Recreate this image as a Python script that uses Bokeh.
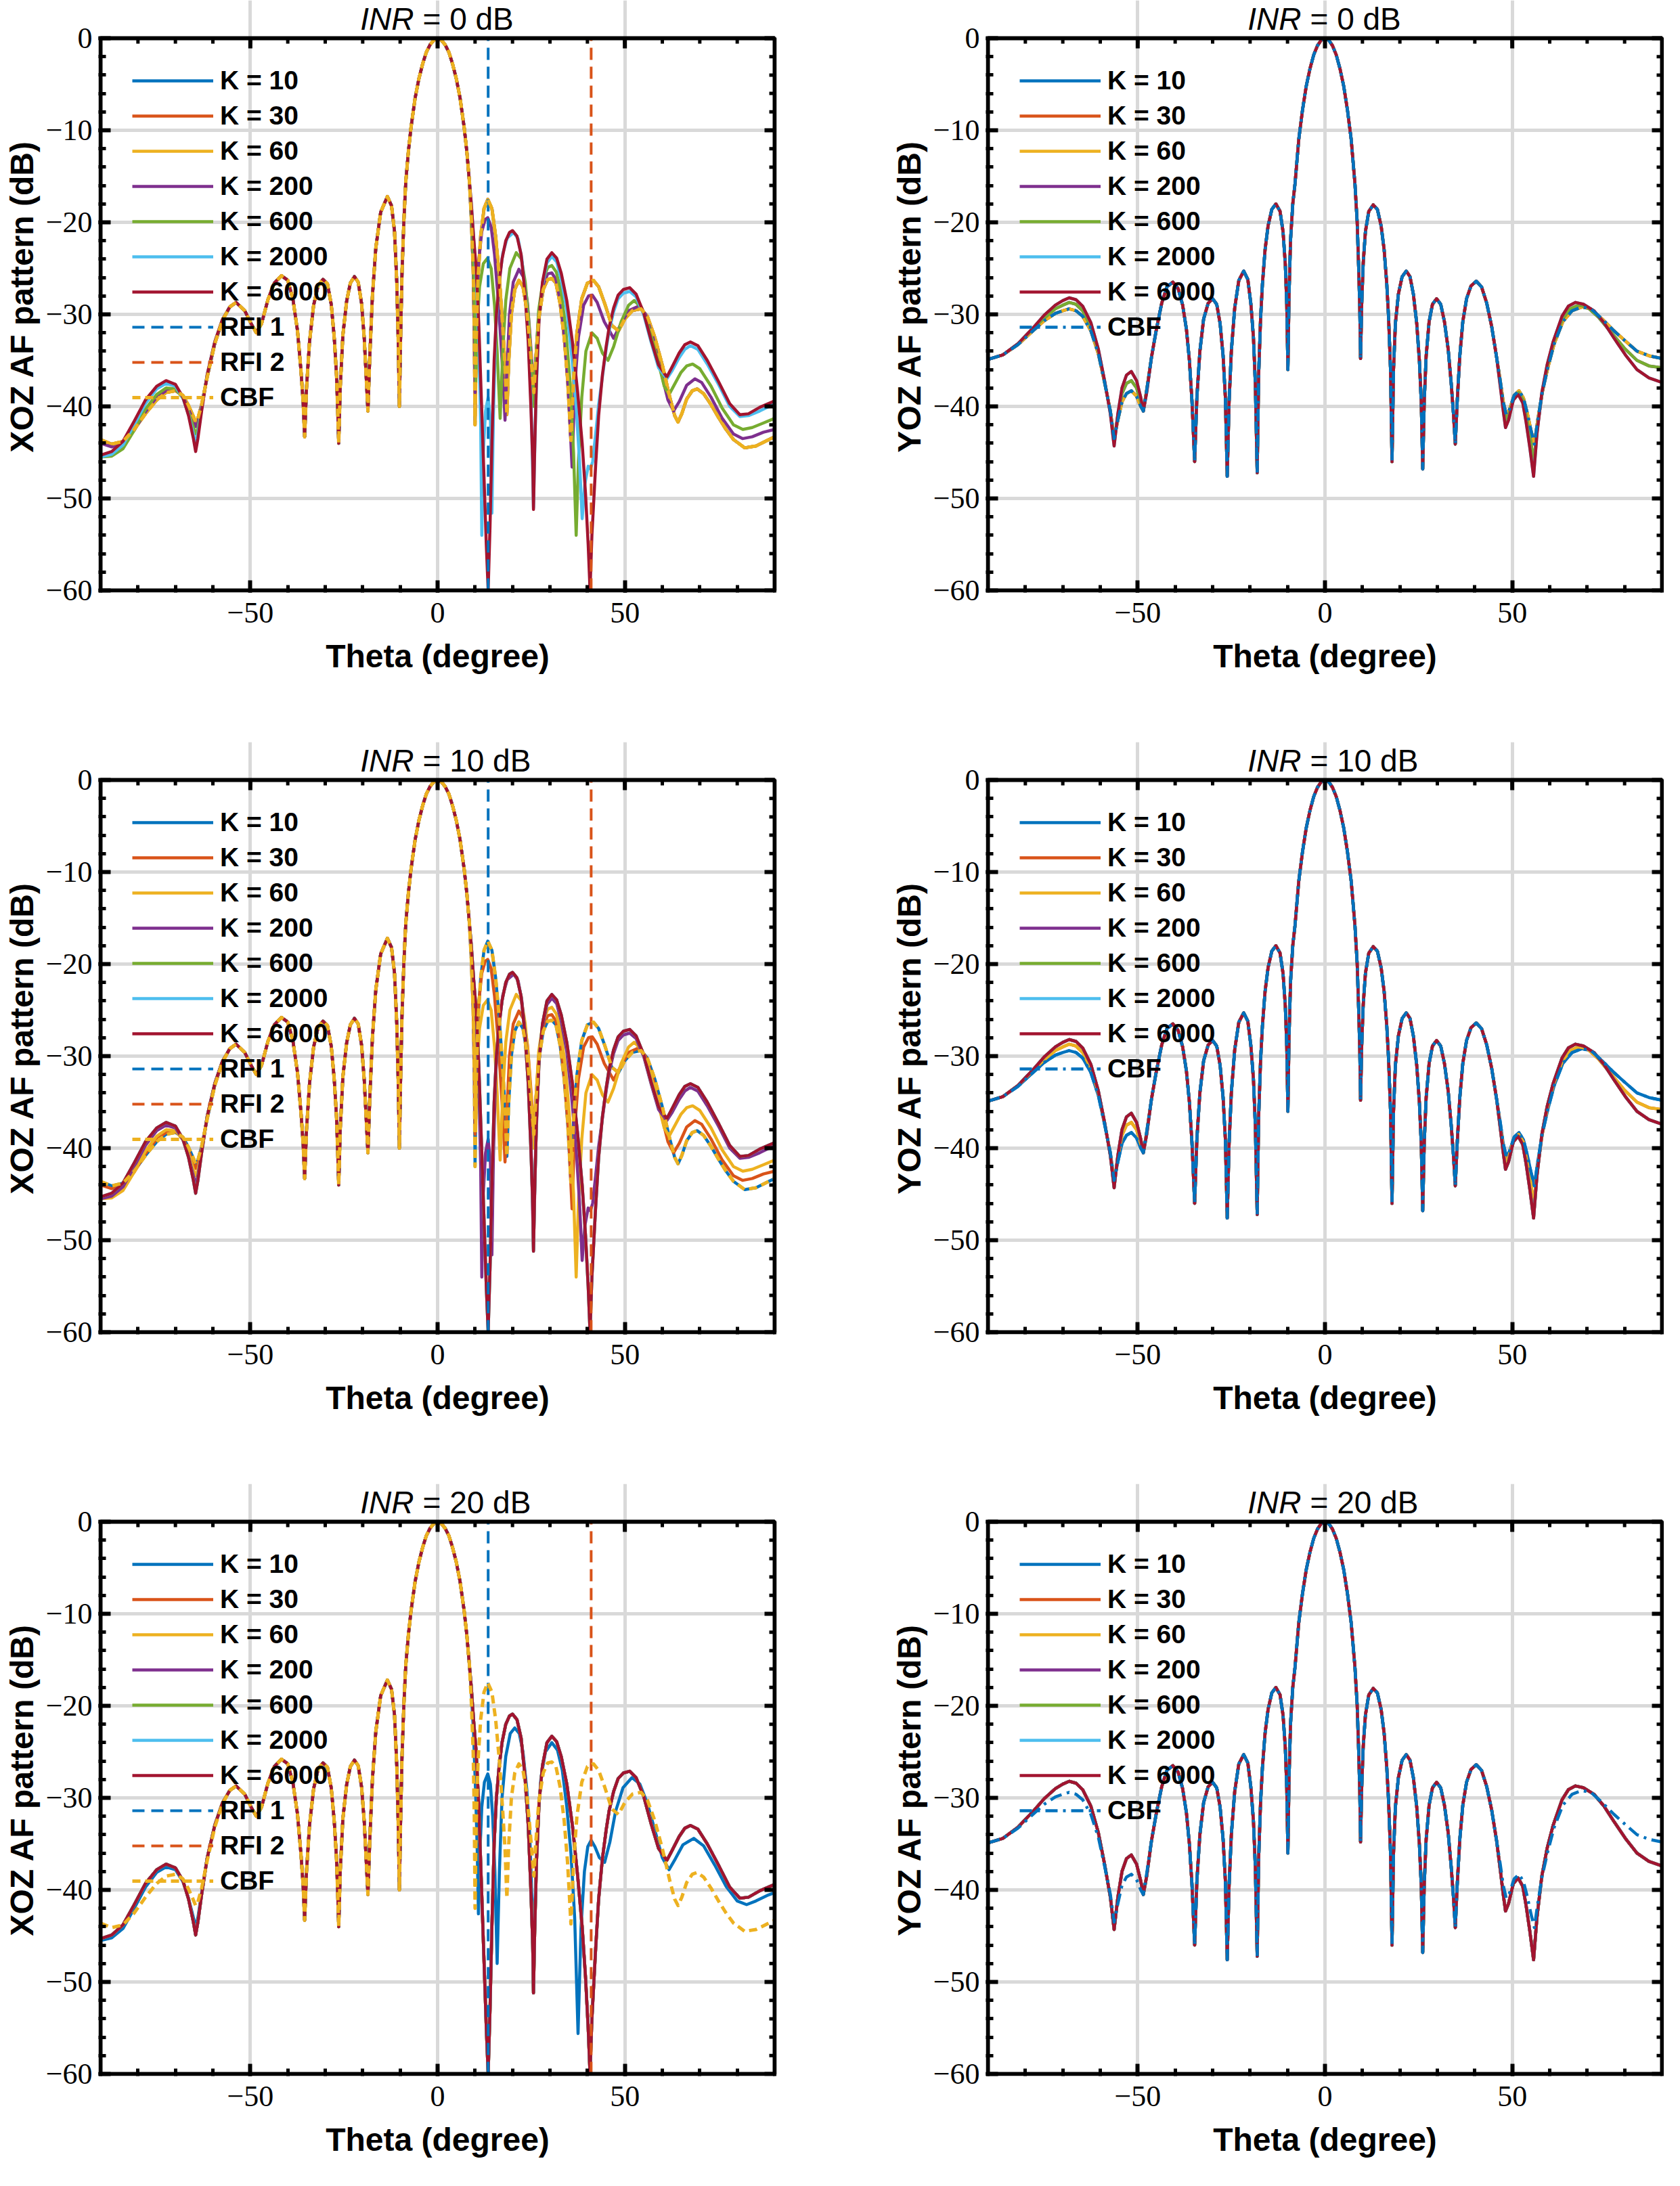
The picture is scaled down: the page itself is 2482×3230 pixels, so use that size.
from math import pi

from bokeh.embed import file_html
from bokeh.layouts import gridplot
from bokeh.models import FixedTicker, Label, Range1d
from bokeh.plotting import figure
from bokeh.resources import INLINE

# axes
x_lim = [-90, 90]
y_lim = [-60, 0]
x_ticks = [-50, 0, 50]
x_tick_labels = ["\u221250", "0", "50"]
x_minor = list(range(-90, 91, 10))
y_ticks = [-60, -50, -40, -30, -20, -10, 0]
y_tick_labels = ["\u221260", "\u221250", "\u221240", "\u221230", "\u221220", "\u221210", "0"]
y_minor = list(range(-60, 1, 2))

inr_values = ["0", "10", "20"]
k_labels = ["K = 10", "K = 30", "K = 60", "K = 200", "K = 600", "K = 2000", "K = 6000"]
k_colors = ["#0072BD", "#D95319", "#EDB120", "#7E2F8E", "#77AC30", "#4DBEEE", "#A2142F"]

# interference directions (degree)
rfi_theta = [13.5, 41.0]
rfi_labels = ["RFI 1", "RFI 2"]
rfi_colors = ["#0072BD", "#D95319"]

# ---------------- XOZ cut ----------------
# far left part (-90 .. -55.5), one row per curve shape
xoz_fl_theta = [-90, -87, -84, -81, -78, -75, -72.5, -70, -68, -66.5, -65.2, -64.6, -64, -63, -61.5, -59.5, -57.5, -55.5]
xoz_fl_a = [-43.6, -44.1, -43.8, -42.5, -40.8, -39.3, -38.5, -38.3, -38.8, -39.9, -41.1, -41.7, -41.3, -39.8, -36.8, -33.2, -30.7, -29.2]
xoz_fl_b = [-44.0, -44.4, -44.0, -42.6, -40.6, -39.0, -38.3, -38.2, -38.9, -40.3, -41.6, -42.2, -41.7, -39.9, -36.7, -33.2, -30.7, -29.2]
xoz_fl_c = [-45.5, -45.4, -44.6, -42.6, -40.3, -38.7, -38.0, -38.1, -39.1, -40.6, -42.3, -43.0, -42.4, -40.1, -36.6, -33.1, -30.7, -29.2]
xoz_fl_d = [-45.5, -45.2, -44.2, -42.0, -39.7, -38.1, -37.5, -37.8, -39.1, -40.9, -43.0, -44.0, -43.0, -40.3, -36.5, -33.0, -30.6, -29.2]
xoz_fl_e = [-45.3, -44.9, -43.8, -41.6, -39.3, -37.8, -37.2, -37.6, -39.0, -41.0, -43.5, -44.9, -43.5, -40.5, -36.5, -33.0, -30.6, -29.2]

# common part (-53.8 .. 7.8), (theta, dB)
xoz_core = [
    (-53.8, -28.7), (-51.5, -29.6), (-49.8, -31.0), (-48.4, -32.0), (-47.0, -31.0), (-45.3, -28.4),
    (-43.6, -26.6), (-41.7, -25.8), (-40.0, -26.3), (-38.6, -28.4), (-37.4, -31.8), (-36.5, -36.0),
    (-35.9, -39.5), (-35.5, -43.3), (-35.0, -38.0), (-34.2, -33.0), (-33.1, -29.0), (-31.9, -26.9),
    (-30.6, -26.2), (-29.4, -26.7), (-28.4, -28.9), (-27.6, -32.5), (-27.0, -36.5), (-26.7, -40.0),
    (-26.4, -44.0), (-26.0, -38.0), (-25.3, -32.3), (-24.3, -28.6), (-23.3, -26.6), (-22.2, -25.9),
    (-21.2, -26.5), (-20.3, -28.8), (-19.6, -32.5), (-19.1, -36.5), (-18.6, -40.5), (-18.1, -34.5),
    (-17.4, -28.0), (-16.5, -22.8), (-15.2, -18.9), (-13.4, -17.2), (-12.3, -18.2), (-11.5, -21.0),
    (-10.9, -26.5), (-10.5, -33.0), (-10.2, -40.0), (-9.9, -33.0), (-9.5, -25.5), (-9.0, -19.8),
    (-8.5, -15.6), (-7.8, -12.3), (-7.1, -9.7), (-6.0, -6.5), (-5.0, -4.4), (-4.0, -2.8),
    (-3.0, -1.5), (-2.0, -0.7), (-1.0, -0.2), (0.0, 0.0), (1.0, -0.2), (2.0, -0.7), (3.0, -1.5),
    (4.0, -2.8), (5.0, -4.4), (6.0, -6.5), (7.1, -9.7), (7.8, -12.3),
]

# right part (8.5 .. 90) for each curve shape
xoz_right_a = [
    (8.5, -15.6), (9.0, -19.5), (9.5, -25.0), (9.8, -32.0), (10.0, -42.0), (10.3, -33.0), (10.8, -26.0),
    (11.5, -21.5), (12.4, -18.5), (13.4, -17.5), (14.5, -18.5), (15.5, -21.5), (16.5, -26.0), (17.4, -31.5),
    (18.0, -35.5), (18.5, -40.9), (19.0, -35.0), (19.7, -30.0), (20.6, -27.3), (21.7, -26.3), (22.8, -27.0),
    (23.8, -29.5), (24.7, -33.5), (25.3, -36.5), (25.7, -38.5), (26.2, -35.0), (27.0, -30.5), (28.2, -27.3),
    (29.4, -26.2), (30.5, -26.1), (31.6, -26.6), (32.7, -28.8), (33.8, -32.5), (34.7, -37.0), (35.6, -43.7),
    (36.3, -37.0), (37.2, -32.0), (38.5, -28.3), (40.0, -26.6), (41.6, -26.3), (43.0, -27.0), (44.6, -28.8),
    (46.5, -31.2), (48.3, -31.8), (50.0, -30.5), (52.0, -29.6), (54.3, -29.4), (56.0, -30.2), (58.0, -32.5),
    (60.0, -35.5), (62.0, -39.0), (63.3, -41.0), (64.2, -41.7), (65.2, -40.8), (66.5, -39.2), (68.0, -38.3),
    (69.3, -38.1), (71.0, -38.6), (73.0, -39.8), (75.0, -41.2), (77.0, -42.5), (79.0, -43.6), (82.0, -44.5),
    (85.0, -44.3), (88.0, -43.7), (90.0, -43.3),
]
xoz_right_b = [
    (8.5, -15.6), (9.0, -19.5), (9.5, -25.0), (9.8, -31.0), (10.0, -38.5), (10.3, -31.0), (10.9, -24.5),
    (11.8, -21.0), (12.7, -19.7), (13.4, -19.5), (14.3, -20.5), (15.2, -23.5), (16.1, -28.0), (16.9, -33.0),
    (17.5, -37.0), (18.0, -41.5), (18.5, -36.0), (19.2, -30.0), (20.2, -26.5), (21.7, -25.1), (23.0, -26.0),
    (24.0, -28.8), (24.8, -33.0), (25.4, -36.5), (25.7, -38.5), (26.2, -35.0), (27.0, -30.0), (28.2, -26.8),
    (29.4, -25.6), (30.5, -25.5), (31.6, -26.2), (32.8, -28.6), (33.9, -32.6), (34.9, -38.0), (35.9, -46.6),
    (36.6, -38.0), (37.6, -32.5), (39.0, -29.0), (40.3, -28.0), (41.3, -27.9), (42.6, -28.7), (44.5, -30.8),
    (47.0, -32.6), (49.0, -31.0), (51.0, -29.6), (53.7, -29.1), (55.5, -30.0), (57.5, -32.5), (59.5, -36.0),
    (61.5, -39.3), (63.0, -40.5), (64.5, -39.5), (66.5, -37.7), (68.7, -37.0), (70.5, -37.4), (73.0, -39.0),
    (76.0, -41.3), (79.0, -43.0), (81.4, -43.5), (84.0, -43.3), (87.0, -42.8), (90.0, -42.5),
]
xoz_right_c = [
    (8.5, -15.6), (9.0, -19.0), (9.5, -24.0), (9.9, -30.0), (10.2, -37.4), (10.6, -31.0), (11.2, -27.0),
    (12.2, -24.5), (13.3, -23.9), (14.3, -25.0), (15.2, -29.0), (15.9, -34.0), (16.7, -41.3), (17.4, -34.0),
    (18.2, -28.5), (19.3, -25.0), (21.0, -23.3), (22.4, -24.0), (23.4, -26.5), (24.3, -30.5), (25.0, -35.0),
    (25.6, -40.0), (26.2, -35.0), (27.0, -29.5), (28.2, -26.2), (29.4, -24.9), (30.5, -24.7), (31.7, -25.4),
    (33.0, -27.6), (34.2, -31.5), (35.3, -37.0), (36.3, -45.0), (37.0, -54.0), (37.6, -46.0), (38.5, -39.0),
    (39.6, -34.0), (41.2, -32.0), (42.6, -32.6), (44.0, -34.2), (45.5, -35.0), (47.0, -33.5), (49.0, -30.8),
    (51.0, -29.0), (52.5, -28.5), (54.5, -29.3), (56.5, -31.5), (58.5, -34.5), (60.5, -37.8), (61.8, -38.7),
    (63.0, -37.8), (65.0, -36.3), (66.5, -35.6), (68.1, -35.4), (70.0, -35.9), (73.0, -37.8), (76.0, -40.2),
    (79.0, -42.0), (81.5, -42.5), (84.0, -42.3), (87.0, -41.8), (90.0, -41.3),
]
xoz_right_d = [
    (8.5, -15.6), (9.0, -18.0), (9.6, -21.5), (10.3, -26.0), (11.0, -33.0), (11.5, -42.0), (11.8, -54.0),
    (12.2, -45.0), (12.8, -40.5), (13.5, -39.0), (14.1, -41.5), (14.5, -51.6), (14.9, -41.0), (15.5, -32.0),
    (16.4, -26.5), (17.4, -23.4), (18.6, -21.7), (20.3, -21.1), (21.5, -21.8), (22.5, -24.0), (23.5, -28.0),
    (24.3, -33.0), (25.0, -40.0), (25.6, -51.0), (26.2, -40.0), (27.0, -31.0), (28.0, -26.8), (29.2, -24.4),
    (30.5, -23.7), (31.8, -24.3), (33.0, -26.2), (34.5, -29.5), (35.8, -34.5), (37.0, -40.0), (37.9, -46.0),
    (38.6, -52.2), (39.3, -48.5), (40.2, -46.5), (40.8, -46.8), (41.4, -46.0), (42.2, -43.0), (43.0, -39.8),
    (44.0, -36.8), (45.0, -33.8), (45.8, -31.8), (47.0, -29.7), (48.2, -28.3), (49.6, -27.7), (51.3, -27.5),
    (53.0, -28.1), (55.0, -30.0), (57.0, -33.0), (59.0, -35.8), (61.2, -37.0), (62.5, -36.2), (64.5, -34.7),
    (66.0, -33.8), (67.5, -33.4), (69.5, -33.8), (72.0, -35.4), (75.0, -37.6), (78.0, -40.0), (80.7, -41.1),
    (83.0, -41.0), (86.0, -40.5), (90.0, -39.7),
]
xoz_right_e = [
    (8.5, -15.6), (9.0, -18.0), (9.6, -21.5), (10.3, -25.0), (11.0, -31.0), (11.5, -37.0), (12.0, -43.0),
    (12.5, -49.0), (13.0, -55.0), (13.5, -60.0), (14.0, -53.0), (14.5, -44.0), (15.1, -35.0), (15.7, -30.0),
    (16.4, -26.7), (17.2, -24.0), (18.2, -22.0), (19.2, -21.1), (20.0, -20.9), (21.2, -21.5), (22.3, -23.5),
    (23.3, -27.5), (24.2, -33.0), (24.9, -40.0), (25.4, -46.0), (25.6, -51.2), (25.9, -45.0), (26.4, -37.0),
    (27.1, -30.5), (28.0, -26.5), (29.2, -24.0), (30.5, -23.3), (31.8, -23.9), (33.0, -25.5), (34.5, -28.5),
    (36.0, -33.0), (37.4, -38.5), (38.6, -44.0), (39.5, -49.5), (40.2, -55.0), (40.7, -60.0), (41.2, -54.0),
    (42.2, -46.4), (43.0, -41.0), (44.0, -36.6), (45.0, -33.5), (45.8, -31.4), (47.0, -29.3), (48.2, -27.9),
    (49.6, -27.3), (51.3, -27.1), (53.0, -27.8), (55.0, -29.8), (57.0, -32.8), (59.0, -35.5), (61.2, -36.8),
    (62.5, -35.8), (64.5, -34.2), (66.0, -33.3), (67.5, -33.0), (69.5, -33.4), (72.0, -35.0), (75.0, -37.3),
    (78.0, -39.7), (80.7, -40.9), (83.0, -40.8), (86.0, -40.1), (90.0, -39.4),
]
xoz_right_f = [
    (8.5, -15.6), (9.0, -18.5), (9.6, -23.0), (10.2, -30.0), (10.6, -36.0), (10.9, -42.6), (11.3, -36.0),
    (11.8, -31.0), (12.5, -28.3), (13.4, -27.4), (14.1, -28.5), (14.7, -32.0), (15.3, -38.0), (15.9, -48.0),
    (16.5, -38.0), (17.2, -30.0), (18.2, -25.5), (19.4, -23.0), (20.6, -22.4), (21.8, -23.0), (22.8, -25.0),
    (23.8, -29.0), (24.6, -34.0), (25.2, -41.0), (25.6, -51.0), (26.0, -42.0), (26.7, -33.0), (27.6, -27.8),
    (28.8, -25.0), (30.5, -24.0), (32.0, -24.8), (33.3, -27.0), (34.5, -31.0), (35.6, -36.0), (36.6, -43.0),
    (37.5, -55.6), (38.3, -44.0), (39.2, -38.0), (40.1, -35.3), (41.0, -34.6), (42.0, -35.3), (43.2, -36.5),
    (44.6, -37.0), (46.0, -34.8), (47.5, -31.5), (49.5, -28.9), (51.9, -27.8), (54.0, -28.5), (56.0, -30.6),
    (58.0, -33.5), (60.0, -36.5), (61.8, -37.8), (63.5, -36.6), (65.5, -35.1), (68.4, -34.4), (71.0, -35.2),
    (74.0, -37.3), (77.0, -39.6), (80.0, -41.2), (82.5, -41.6), (85.0, -41.2), (88.0, -40.6), (90.0, -40.3),
]

# which shape each K curve follows, per INR (XOZ)
xoz_k_shapes = {
    "0": ["a", "a", "a", "b", "c", "d", "e"],
    "10": ["a", "b", "c", "d", "e", "e", "e"],
    "20": ["f", "e", "e", "e", "e", "e", "e"],
}

# ---------------- YOZ cut ----------------
yoz_fl_theta = [-90, -86, -82, -78, -75, -72, -70, -68.3, -66.5, -64.7, -62.5, -60.5, -58.8, -57.3,
                -56.3, -55.3, -54.2, -53, -51.7, -50.3, -49.2, -48.5, -47.6, -46.3]
yoz_fl_A = [-34.9, -34.4, -33.3, -31.8, -30.7, -29.9, -29.6, -29.4, -29.6, -30.2, -31.8, -34.3, -37.5, -40.5,
            -43.5, -41.5, -39.5, -38.6, -38.3, -38.9, -40.0, -40.5, -38.2, -34.6]
yoz_fl_C = [-34.9, -34.4, -33.2, -31.6, -30.4, -29.4, -29.0, -28.7, -28.9, -29.6, -31.3, -34.0, -37.4, -40.6,
            -43.8, -41.0, -38.6, -37.5, -37.2, -38.0, -39.5, -40.5, -38.3, -34.6]
yoz_fl_E = [-34.9, -34.4, -33.2, -31.5, -30.1, -29.0, -28.5, -28.2, -28.4, -29.1, -30.9, -33.8, -37.3, -40.8,
            -44.3, -40.8, -38.0, -36.6, -36.2, -37.2, -39.0, -40.5, -38.5, -34.6]

yoz_core = [
    (-45.0, -31.6), (-43.6, -28.8), (-42.2, -27.0), (-40.6, -26.5), (-39.2, -27.2), (-38.0, -29.0),
    (-37.0, -31.6), (-36.2, -35.0), (-35.5, -39.5), (-34.8, -46.0), (-34.2, -39.0), (-33.4, -34.0),
    (-32.4, -30.5), (-31.2, -28.8), (-30.0, -28.3), (-28.9, -28.9), (-28.0, -31.0), (-27.2, -34.5),
    (-26.6, -39.0), (-26.1, -47.6), (-25.6, -39.5), (-25.0, -34.0), (-24.1, -29.3), (-23.0, -26.3),
    (-21.7, -25.3), (-20.6, -26.2), (-19.8, -28.8), (-19.1, -32.5), (-18.6, -37.5), (-18.1, -47.2),
    (-17.7, -36.5), (-17.2, -30.5), (-16.7, -26.7), (-16.0, -23.0), (-15.2, -20.4), (-14.2, -18.6),
    (-13.1, -18.0), (-12.0, -18.8), (-11.2, -21.0), (-10.6, -24.5), (-10.2, -29.0), (-9.9, -36.0),
    (-9.6, -28.0), (-9.2, -22.0), (-8.6, -18.0), (-8.0, -15.8), (-7.0, -11.0), (-6.0, -7.8),
    (-5.0, -5.2), (-4.0, -3.3), (-3.0, -1.8), (-2.0, -0.8), (-1.0, -0.2), (0.0, 0.0), (1.0, -0.2),
    (2.0, -0.8), (3.0, -1.8), (4.0, -3.3), (5.0, -5.2), (6.0, -7.8), (7.0, -11.0), (8.0, -15.8),
    (8.6, -20.0), (9.0, -25.0), (9.3, -29.5), (9.5, -34.8), (9.8, -29.0), (10.2, -24.5), (10.8, -21.0),
    (11.7, -18.8), (12.9, -18.1), (14.0, -18.6), (15.0, -20.4), (15.8, -23.0), (16.5, -26.7), (17.0, -30.5),
    (17.5, -36.0), (17.9, -46.0), (18.3, -36.0), (18.8, -31.0), (19.6, -27.8), (20.6, -25.9), (21.7, -25.3),
    (22.7, -25.9), (23.6, -27.8), (24.5, -31.0), (25.2, -35.0), (25.7, -39.5), (26.1, -46.8), (26.5, -39.5),
    (27.0, -34.6), (27.8, -30.8), (28.7, -28.9), (29.8, -28.3), (30.9, -28.9), (31.9, -30.8), (32.9, -33.8),
    (33.7, -37.5), (34.3, -40.8), (34.8, -44.1), (35.3, -39.5), (36.0, -34.5), (36.8, -30.8), (37.8, -28.3),
    (39.0, -26.9), (40.4, -26.4), (41.8, -27.0), (43.2, -28.8), (44.5, -31.3),
]

yoz_right_A = [
    (45.8, -34.6), (46.8, -37.2), (47.6, -39.5), (48.4, -40.9), (49.3, -40.3), (50.5, -38.8), (51.8, -38.3),
    (53.0, -39.1), (54.0, -40.7), (55.0, -42.6), (55.9, -44.1), (56.8, -41.5), (58.0, -38.5), (59.5, -35.8),
    (61.2, -33.2), (63.5, -30.8), (66.0, -29.6), (68.6, -29.2), (71.0, -29.4), (74.0, -30.5), (77.2, -31.8),
    (80.2, -32.9), (83.3, -34.0), (86.5, -34.5), (90.0, -34.8),
]
yoz_right_C = [
    (45.8, -34.6), (46.8, -37.5), (47.6, -40.0), (48.3, -41.6), (49.1, -40.9), (50.4, -39.0), (51.7, -38.5),
    (52.9, -39.3), (53.8, -41.2), (54.8, -43.5), (55.8, -46.0), (56.7, -42.3), (58.0, -38.5), (59.4, -35.6),
    (61.0, -33.1), (63.4, -30.5), (65.5, -29.4), (67.7, -29.0), (70.0, -29.2), (73.0, -30.3), (76.5, -32.0),
    (80.0, -33.7), (83.3, -35.0), (86.5, -35.6), (90.0, -35.8),
]
yoz_right_E = [
    (45.8, -34.6), (46.8, -37.8), (47.6, -40.5), (48.2, -42.3), (49.0, -41.5), (50.3, -39.3), (51.6, -38.7),
    (52.8, -39.6), (53.7, -41.7), (54.7, -44.5), (55.7, -47.6), (56.6, -43.0), (57.9, -38.5), (59.3, -35.5),
    (60.9, -33.0), (63.3, -30.2), (65.0, -29.1), (66.9, -28.7), (69.0, -28.9), (71.8, -29.6), (74.5, -30.9),
    (77.2, -32.6), (80.2, -34.4), (83.3, -36.0), (86.5, -36.9), (90.0, -37.4),
]

yoz_k_shapes = {
    "0": ["A", "A", "A", "C", "C", "E", "E"],
    "10": ["A", "C", "C", "E", "E", "E", "E"],
    "20": ["E", "E", "E", "E", "E", "E", "E"],
}


def unzip(pairs):
    return [t for t, _ in pairs], [d for _, d in pairs]


xoz_far_left = {"a": xoz_fl_a, "b": xoz_fl_b, "c": xoz_fl_c, "d": xoz_fl_d, "e": xoz_fl_e, "f": xoz_fl_d}
xoz_right = {"a": xoz_right_a, "b": xoz_right_b, "c": xoz_right_c, "d": xoz_right_d,
             "e": xoz_right_e, "f": xoz_right_f}
yoz_far_left = {"A": yoz_fl_A, "C": yoz_fl_C, "E": yoz_fl_E}
yoz_right = {"A": yoz_right_A, "C": yoz_right_C, "E": yoz_right_E}


def xoz_curve(shape):
    core_t, core_d = unzip(xoz_core)
    right_t, right_d = unzip(xoz_right[shape])
    return xoz_fl_theta + core_t + right_t, xoz_far_left[shape] + core_d + right_d


def yoz_curve(shape):
    core_t, core_d = unzip(yoz_core)
    right_t, right_d = unzip(yoz_right[shape])
    return yoz_fl_theta + core_t + right_t, yoz_far_left[shape] + core_d + right_d


# layout (pixels): the box is BOX_W x BOX_H, the frame is padded by PAD around it
# and extended by TITLE_H above it, so the title text lives inside the frame
BOX_W, BOX_H, PAD, TITLE_H = 996, 816, 3, 56
X_PER_PX = (x_lim[1] - x_lim[0]) / BOX_W
Y_PER_PX = (y_lim[1] - y_lim[0]) / BOX_H


def style_axis(ax, ticks, minor, bounds):
    ax.ticker = FixedTicker(ticks=ticks, minor_ticks=minor)
    ax.bounds = (bounds[0], bounds[1])
    ax.axis_line_color = None
    ax.major_tick_in = 15 + PAD
    ax.major_tick_out = 0
    ax.minor_tick_in = 8 + PAD
    ax.minor_tick_out = 0
    ax.major_tick_line_width = 6
    ax.minor_tick_line_width = 5
    ax.major_tick_line_color = "black"
    ax.minor_tick_line_color = "black"
    ax.major_label_text_font = "Liberation Serif"
    ax.major_label_text_font_size = "44px"
    ax.major_label_text_color = "black"
    ax.axis_label_text_font = "Liberation Sans"
    ax.axis_label_text_font_style = "bold"
    ax.axis_label_text_font_size = "48px"
    ax.axis_label_text_color = "black"


def make_panel(kind, inr, row):
    left_col = kind == "XOZ"
    p = figure(frame_width=BOX_W + 2 * PAD, frame_height=BOX_H + PAD + TITLE_H,
               x_range=Range1d(x_lim[0] - PAD * X_PER_PX, x_lim[1] + PAD * X_PER_PX),
               y_range=Range1d(y_lim[0] - PAD * Y_PER_PX, y_lim[1] + TITLE_H * Y_PER_PX),
               output_backend="svg", toolbar_location=None,
               min_border_left=145 if left_col else 227,
               min_border_right=82 if left_col else 0,
               min_border_top=0, min_border_bottom=140 if row == 2 else 221)
    p.outline_line_color = None
    p.background_fill_color = "white"
    p.border_fill_color = "white"

    for ax in p.below:
        style_axis(ax, x_ticks, x_minor, x_lim)
    for ax in p.left:
        style_axis(ax, y_ticks, y_minor, y_lim)

    xa = p.below[0]
    xa.axis_label = "Theta (degree)"
    xa.major_label_overrides = dict(zip(x_ticks, x_tick_labels))
    xa.major_label_standoff = 15
    xa.axis_label_standoff = 20
    ya = p.left[0]
    ya.axis_label = kind + " AF pattern (dB)"
    ya.major_label_overrides = dict(zip(y_ticks, y_tick_labels))
    ya.major_label_standoff = 9
    ya.axis_label_standoff = 6

    p.xgrid.ticker = FixedTicker(ticks=x_ticks)
    p.ygrid.ticker = FixedTicker(ticks=y_ticks)
    p.xgrid.bounds = (y_lim[0], y_lim[1])
    p.ygrid.bounds = (x_lim[0], x_lim[1])
    p.grid.grid_line_color = "#d9d9d9"
    p.grid.grid_line_width = 5

    # curves
    shapes = xoz_k_shapes[inr] if left_col else yoz_k_shapes[inr]
    curve = xoz_curve if left_col else yoz_curve
    for label, color, shape in zip(k_labels, k_colors, shapes):
        t, d = curve(shape)
        p.line(t, d, line_color=color, line_width=4.5, line_join="round", legend_label=label)

    if left_col:
        for th, label, color in zip(rfi_theta, rfi_labels, rfi_colors):
            p.line([th, th], y_lim, line_color=color, line_width=4, line_dash="18 10", legend_label=label)
        t, d = xoz_curve("a")
        p.line(t, d, line_color="#EDB120", line_width=5, line_dash="12 7",
               line_join="round", legend_label="CBF")
    else:
        t, d = yoz_curve("A")
        p.line(t, d, line_color="#0072BD", line_width=4.5, line_dash="18 8 4 8",
               line_join="round", legend_label="CBF")

    # axes box and inward ticks on its top and right edges
    p.quad(left=[x_lim[0]], right=[x_lim[1]], bottom=[y_lim[0]], top=[y_lim[1]],
           fill_color=None, line_color="black", line_width=6)
    p.ray(x_minor, [y_lim[1]] * len(x_minor), length=8, angle=-pi / 2, length_units="screen",
          line_color="black", line_width=5)
    p.ray(x_ticks, [y_lim[1]] * len(x_ticks), length=15, angle=-pi / 2, length_units="screen",
          line_color="black", line_width=6)
    p.ray([x_lim[1]] * len(y_minor), y_minor, length=8, angle=pi, length_units="screen",
          line_color="black", line_width=5)
    p.ray([x_lim[1]] * len(y_ticks), y_ticks, length=15, angle=pi, length_units="screen",
          line_color="black", line_width=6)

    lg = p.legend[0]
    n_items = len(lg.items)
    lg.glyph_width = 120
    lg.glyph_height = 44
    lg.label_height = 44
    lg.spacing = 8
    lg.padding = 0
    lg.margin = 0
    lg.label_standoff = 10
    # bottom-left corner of the legend, in pixels from the frame's bottom-left corner
    legend_h = n_items * 44 + (n_items - 1) * 8
    lg.location = (50, BOX_H + PAD + TITLE_H - 97 - legend_h)
    lg.border_line_color = None
    lg.background_fill_alpha = 0
    lg.label_text_font = "Liberation Sans"
    lg.label_text_font_style = "bold"
    lg.label_text_font_size = "39px"
    lg.label_text_color = "black"

    # title: italic INR followed by "= n dB", centred over theta = 0, above the box
    p.add_layout(Label(x=0, y=y_lim[1], text="INR", x_offset=-35, y_offset=29,
                       text_align="right", text_baseline="middle",
                       text_font="Liberation Sans", text_font_style="italic",
                       text_font_size="46px", text_color="black"))
    p.add_layout(Label(x=0, y=y_lim[1], text="= " + inr + " dB", x_offset=-22, y_offset=29,
                       text_align="left", text_baseline="middle",
                       text_font="Liberation Sans", text_font_size="46px", text_color="black"))
    return p


rows = []
for i, inr in enumerate(inr_values):
    rows.append([make_panel("XOZ", inr, i), make_panel("YOZ", inr, i)])

grid = gridplot(rows, toolbar_location=None)

open("out.html", "w").write(file_html(grid, INLINE, "AF pattern"))
